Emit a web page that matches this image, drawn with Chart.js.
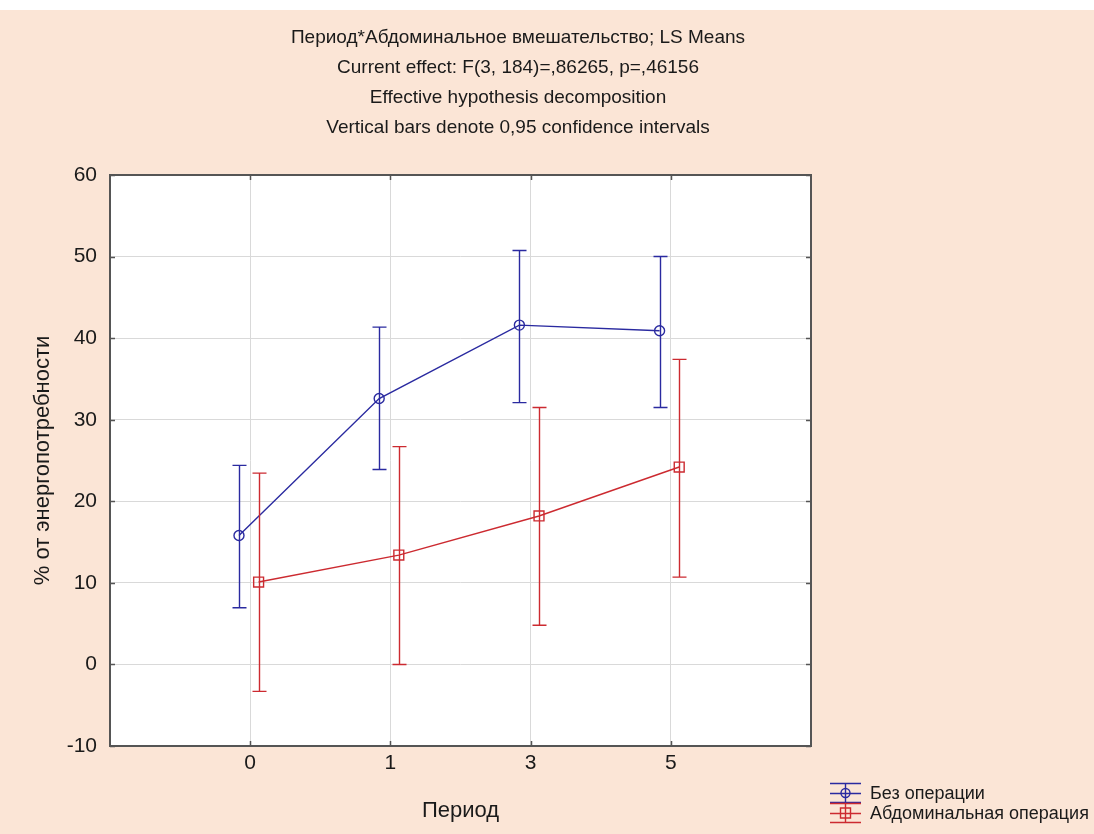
<!DOCTYPE html>
<html>
<head>
<meta charset="utf-8">
<script src="https://cdn.jsdelivr.net/npm/chart.js@4.4.1/dist/chart.umd.min.js"></script>
<style>
  html, body { margin: 0; padding: 0; background: #fbe5d6; }
  #wrap { position: relative; width: 1094px; height: 834px; }
</style>
</head>
<body>
<div id="wrap"><canvas id="myChart"></canvas></div>
<script>
const periods = ['0', '1', '3', '5']
const seriesNames = ['Без операции', 'Абдоминальная операция']
const noOpMean = [15.8, 32.6, 41.6, 40.9]
const noOpLow = [6.95, 23.9, 32.1, 31.5]
const noOpHigh = [24.4, 41.35, 50.75, 50.0]
const abdMean = [10.1, 13.4, 18.2, 24.2]
const abdLow = [-3.3, 0.0, 4.8, 10.7]
const abdHigh = [23.45, 26.7, 31.5, 37.4]
const titleLines = [
  'Период*Абдоминальное вмешательство; LS Means',
  'Current effect: F(3, 184)=,86265, p=,46156',
  'Effective hypothesis decomposition',
  'Vertical bars denote 0,95 confidence intervals'
]

const FONT = '"Liberation Sans", Arial, sans-serif'
const BLUE = '#2a2aa0'
const RED = '#cc2a30'

// points of each group are shifted a bit left/right of the category
const toPoints = (vals, shift) => vals.map((v, i) => ({ x: i + shift, y: v }))

// error bars, frame, titles and legend
const extras = {
  id: 'extras',
  beforeDraw(chart) {
    const { ctx } = chart
    ctx.save()
    ctx.fillStyle = '#fbe5d6'
    ctx.fillRect(0, 0, chart.width, chart.height)
    ctx.fillStyle = '#ffffff'
    ctx.fillRect(0, 0, chart.width, 10)
    const a = chart.chartArea
    ctx.fillRect(a.left, a.top, a.right - a.left, a.bottom - a.top)
    ctx.restore()
  },
  afterDatasetsDraw(chart) {
    const { ctx } = chart
    const y = chart.scales.y
    chart.data.datasets.forEach((ds, di) => {
      const meta = chart.getDatasetMeta(di)
      ctx.save()
      ctx.strokeStyle = ds.borderColor
      ctx.lineWidth = 1.4
      meta.data.forEach((pt, i) => {
        const px = Math.round(pt.x) + 0.5
        const yl = y.getPixelForValue(ds.low[i])
        const yh = y.getPixelForValue(ds.high[i])
        ctx.beginPath()
        ctx.moveTo(px, yl); ctx.lineTo(px, yh)
        ctx.moveTo(px - 7, yl); ctx.lineTo(px + 7, yl)
        ctx.moveTo(px - 7, yh); ctx.lineTo(px + 7, yh)
        ctx.stroke()
      })
      ctx.restore()
    })
  },
  afterDraw(chart) {
    const { ctx } = chart
    const a = chart.chartArea
    const xs = chart.scales.x
    const ys = chart.scales.y
    ctx.save()
    // frame
    ctx.strokeStyle = '#555555'
    ctx.lineWidth = 2
    ctx.strokeRect(a.left, a.top, a.right - a.left, a.bottom - a.top)
    // small inner ticks
    ctx.lineWidth = 1.5
    ctx.beginPath()
    xs.ticks.forEach(t => {
      const px = Math.round(xs.getPixelForValue(t.value)) + 0.5
      ctx.moveTo(px, a.top); ctx.lineTo(px, a.top + 5)
      ctx.moveTo(px, a.bottom); ctx.lineTo(px, a.bottom - 5)
    })
    ys.ticks.forEach(t => {
      const py = Math.round(ys.getPixelForValue(t.value)) + 0.5
      ctx.moveTo(a.left, py); ctx.lineTo(a.left + 5, py)
      ctx.moveTo(a.right, py); ctx.lineTo(a.right - 5, py)
    })
    ctx.stroke()

    // titles
    ctx.fillStyle = '#1a1a1a'
    ctx.font = '19px ' + FONT
    ctx.textAlign = 'center'
    ctx.textBaseline = 'middle'
    titleLines.forEach((line, i) => ctx.fillText(line, 518, 38 + i * 30))

    // legend
    ctx.textAlign = 'left'
    ctx.font = '18px ' + FONT
    chart.data.datasets.forEach((ds, i) => {
      const cy = 793 + i * 20
      const x0 = 830, x1 = 861, cx = 845.5
      ctx.strokeStyle = ds.borderColor
      ctx.lineWidth = 1.4
      ctx.beginPath()
      ctx.moveTo(x0, cy - 9.5); ctx.lineTo(x1, cy - 9.5)
      ctx.moveTo(x0, cy + 0.5); ctx.lineTo(x1, cy + 0.5)
      ctx.moveTo(x0, cy + 9.5); ctx.lineTo(x1, cy + 9.5)
      ctx.moveTo(cx, cy - 9.5); ctx.lineTo(cx, cy + 9.5)
      ctx.stroke()
      ctx.beginPath()
      if (ds.pointStyle === 'rect') ctx.rect(cx - 5, cy - 5, 10, 10)
      else ctx.arc(cx, cy, 4.5, 0, Math.PI * 2)
      ctx.stroke()
      ctx.fillStyle = '#1a1a1a'
      ctx.fillText(ds.label, 870, cy + 1)
    })
    ctx.restore()
  }
}

const ctx = document.getElementById('myChart').getContext('2d')
const myChart = new Chart(ctx, {
  type: 'scatter',
  data: {
    datasets: [{
      label: seriesNames[0],
      data: toPoints(noOpMean, -0.08),
      low: noOpLow,
      high: noOpHigh,
      showLine: true,
      borderColor: BLUE,
      borderWidth: 1.4,
      backgroundColor: 'transparent',
      pointStyle: 'circle',
      pointRadius: 5,
      pointBorderWidth: 1.4,
      pointBorderColor: BLUE
    }, {
      label: seriesNames[1],
      data: toPoints(abdMean, 0.06),
      low: abdLow,
      high: abdHigh,
      showLine: true,
      borderColor: RED,
      borderWidth: 1.4,
      backgroundColor: 'transparent',
      pointStyle: 'rect',
      pointRadius: 7,
      pointBorderWidth: 1.4,
      pointBorderColor: RED
    }]
  },
  options: {
    responsive: true,
    maintainAspectRatio: false,
    animation: false,
    layout: { padding: { top: 175, right: 283, bottom: 0, left: 0 } },
    scales: {
      x: {
        type: 'linear',
        min: -1,
        max: 4,
        afterBuildTicks: s => { s.ticks = periods.map((p, i) => ({ value: i })) },
        afterFit: s => { s.height = 88 },
        ticks: {
          callback: v => periods[v],
          color: '#1a1a1a',
          font: { family: FONT, size: 21 },
          padding: 5,
          maxRotation: 0
        },
        grid: { display: true, color: '#d9d9d9', drawTicks: false },
        border: { display: false },
        title: {
          display: true,
          text: 'Период',
          color: '#1a1a1a',
          font: { family: FONT, size: 22 },
          padding: { top: 0, bottom: 10 }
        }
      },
      y: {
        min: -10,
        max: 60,
        afterFit: s => { s.width = 110 },
        ticks: {
          stepSize: 10,
          color: '#1a1a1a',
          font: { family: FONT, size: 21 },
          padding: 13
        },
        grid: { display: true, color: '#d9d9d9', drawTicks: false },
        border: { display: false },
        title: {
          display: true,
          text: '% от энергопотребности',
          color: '#1a1a1a',
          font: { family: FONT, size: 22 },
          padding: { top: 30, bottom: 0 }
        }
      }
    },
    plugins: {
      legend: { display: false },
      tooltip: { enabled: false }
    }
  },
  plugins: [extras]
})
</script>
</body>
</html>
